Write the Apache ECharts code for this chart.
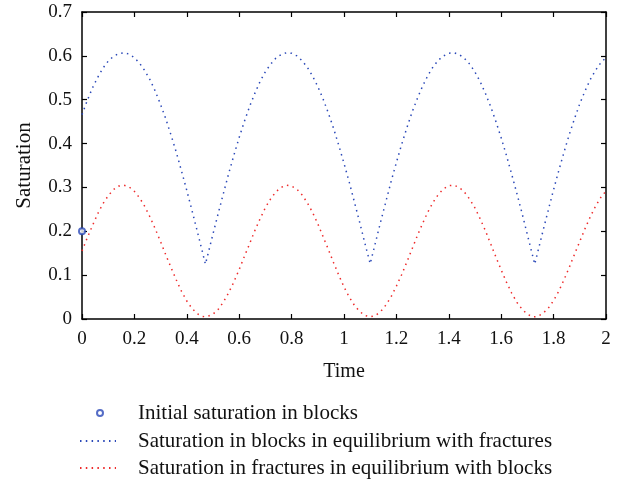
<!DOCTYPE html>
<html>
<head>
<meta charset="utf-8">
<script src="https://cdn.jsdelivr.net/npm/echarts@6/dist/echarts.min.js"></script>
<style>html,body{margin:0;padding:0;background:#fff}#c{width:628px;height:481px}</style>
</head>
<body>
<div id="c"></div>
<script>
var time = [0,0.02,0.04,0.06,0.08,0.10,0.12,0.14,0.16,0.18,0.20,0.22,0.24,0.26,0.28,0.30,0.32,0.34,0.36,0.38,0.40,0.42,0.44,0.46,0.471,0.48,0.50,0.52,0.54,0.56,0.58,0.60,0.62,0.64,0.66,0.68,0.70,0.72,0.74,0.76,0.78,0.80,0.82,0.84,0.86,0.88,0.90,0.92,0.94,0.96,0.98,1.00,1.02,1.04,1.06,1.08,1.10,1.12,1.14,1.16,1.18,1.20,1.22,1.24,1.26,1.28,1.30,1.32,1.34,1.36,1.38,1.40,1.42,1.44,1.46,1.48,1.50,1.52,1.54,1.56,1.58,1.60,1.62,1.64,1.66,1.68,1.70,1.72,1.728,1.74,1.76,1.78,1.80,1.82,1.84,1.86,1.88,1.90,1.92,1.94,1.96,1.98,2.00];
var blocks = [0.466,0.498,0.527,0.551,0.572,0.588,0.599,0.605,0.607,0.604,0.596,0.583,0.566,0.545,0.519,0.489,0.456,0.419,0.380,0.337,0.293,0.247,0.200,0.152,0.125,0.146,0.194,0.241,0.287,0.332,0.374,0.414,0.451,0.485,0.515,0.542,0.564,0.581,0.595,0.603,0.607,0.606,0.600,0.589,0.574,0.554,0.530,0.502,0.470,0.435,0.396,0.355,0.312,0.266,0.220,0.172,0.126,0.174,0.222,0.268,0.314,0.357,0.398,0.436,0.472,0.503,0.531,0.555,0.575,0.590,0.600,0.606,0.607,0.603,0.594,0.581,0.563,0.541,0.514,0.484,0.450,0.413,0.373,0.330,0.286,0.240,0.192,0.144,0.125,0.154,0.202,0.249,0.295,0.339,0.381,0.421,0.457,0.491,0.520,0.546,0.567,0.584,0.596];
var fractures = [0.155,0.185,0.213,0.240,0.263,0.281,0.295,0.303,0.305,0.301,0.291,0.276,0.256,0.232,0.205,0.176,0.146,0.117,0.089,0.063,0.041,0.024,0.012,0.006,0.005,0.006,0.011,0.022,0.039,0.060,0.085,0.113,0.143,0.172,0.202,0.229,0.254,0.274,0.290,0.300,0.305,0.303,0.296,0.283,0.265,0.243,0.217,0.188,0.159,0.129,0.100,0.073,0.050,0.031,0.017,0.008,0.005,0.008,0.017,0.032,0.051,0.075,0.101,0.130,0.160,0.190,0.218,0.244,0.266,0.284,0.297,0.304,0.305,0.300,0.289,0.273,0.253,0.228,0.201,0.171,0.141,0.112,0.084,0.059,0.038,0.022,0.011,0.005,0.005,0.006,0.013,0.025,0.042,0.064,0.090,0.118,0.148,0.177,0.206,0.233,0.257,0.277,0.292];
var initialPoint = [[0, 0.2]];
var names = ['Initial saturation in blocks','Saturation in blocks in equilibrium with fractures','Saturation in fractures in equilibrium with blocks'];

var blue = '#2a48b8', red = '#ee2a2a';
var font = 'Liberation Serif';
function pairs(xs, ys){ return xs.map(function(x,i){ return [x, ys[i]]; }); }

var chart = echarts.init(document.getElementById('c'), null, {renderer:'canvas'});
function axisCommon(){ return {
  axisLine:{show:true, onZero:false, lineStyle:{color:'#000', width:1.5}},
  axisTick:{show:true, inside:true, length:5, lineStyle:{color:'#000', width:1.2}},
  splitLine:{show:false}
}; }
function legendText(pad){ return {fontFamily:font, fontSize:21, lineHeight:22, color:'#111', padding:[0,0,0,pad]}; }
chart.setOption({
  animation:false,
  backgroundColor:'#fff',
  grid:{left:82, top:12, width:524, height:307, containLabel:false},
  xAxis:[
    Object.assign({type:'value', min:0, max:2, interval:0.2, position:'bottom',
      name:'Time', nameLocation:'middle', nameGap:43,
      nameTextStyle:{fontFamily:font, fontSize:20, color:'#111'},
      axisLabel:{fontFamily:font, fontSize:19, color:'#111', margin:11}}, axisCommon()),
    Object.assign({type:'value', min:0, max:2, interval:0.2, position:'top',
      axisLabel:{show:false}}, axisCommon())
  ],
  yAxis:[
    Object.assign({type:'value', min:0, max:0.7, interval:0.1, position:'left',
      name:'Saturation', nameLocation:'middle', nameGap:47, nameRotate:90,
      nameTextStyle:{fontFamily:font, fontSize:21, color:'#111'},
      axisLabel:{fontFamily:font, fontSize:19, color:'#111', margin:10}}, axisCommon()),
    Object.assign({type:'value', min:0, max:0.7, interval:0.1, position:'right',
      axisLabel:{show:false}}, axisCommon())
  ],
  legend:[
    {data:[names[0]], orient:'vertical', left:91, top:397, itemWidth:36, itemHeight:6,
      textStyle:legendText(15), selectedMode:false},
    {data:[names[1]], orient:'vertical', left:74, top:425, itemWidth:36, itemHeight:10,
      itemStyle:{opacity:0}, textStyle:legendText(17), selectedMode:false},
    {data:[names[2]], orient:'vertical', left:74, top:452, itemWidth:36, itemHeight:10,
      itemStyle:{opacity:0}, textStyle:legendText(17), selectedMode:false}
  ],
  series:[
    {name:names[0], type:'scatter', data:initialPoint, symbol:'emptyCircle', symbolSize:6,
      clip:false, z:5, itemStyle:{color:blue, borderWidth:1.3}},
    {name:names[1], type:'line', data:pairs(time, blocks), showSymbol:false, symbol:'none',
      smooth:false, clip:true, lineStyle:{color:blue, width:1.5, type:[1.5,4.3], cap:'butt'},
      itemStyle:{color:blue}},
    {name:names[2], type:'line', data:pairs(time, fractures), showSymbol:false, symbol:'none',
      smooth:false, clip:true, lineStyle:{color:red, width:1.5, type:[1.5,4.3], cap:'butt'},
      itemStyle:{color:red}}
  ]
});
</script>
</body>
</html>
